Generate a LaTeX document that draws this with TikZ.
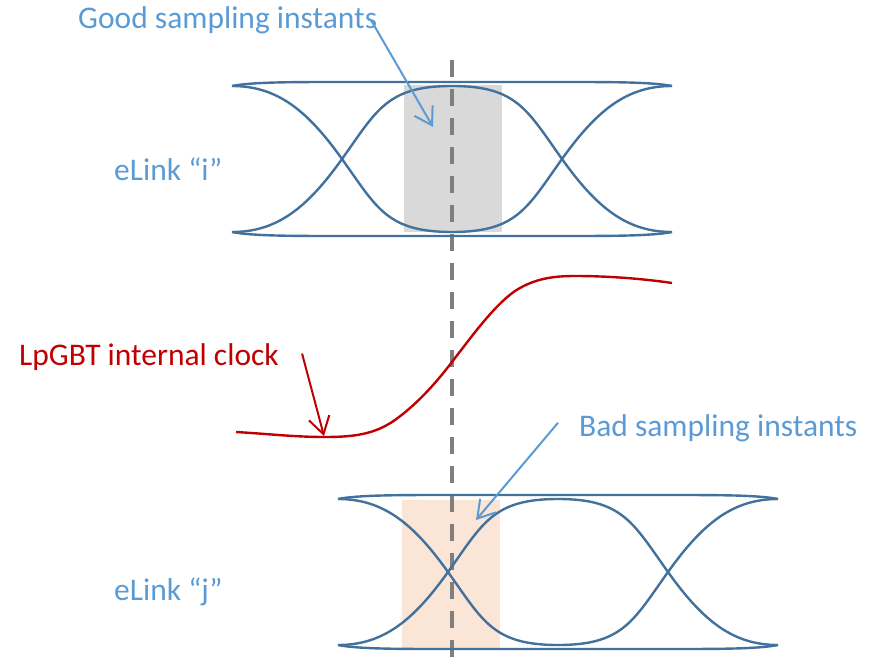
\documentclass[tikz,border=0pt]{standalone}
\usepackage{fontspec}
\setmainfont{Carlito}
\usetikzlibrary{arrows.meta}
\definecolor{eyeblue}{HTML}{41719C}
\definecolor{calloutblue}{HTML}{5B9BD5}
\definecolor{clockred}{HTML}{C00000}
\definecolor{goodgray}{HTML}{D9D9D9}
\definecolor{badpeach}{HTML}{FBE5D6}
\definecolor{samplegray}{HTML}{7F7F7F}
\tikzset{
  eyeline/.style={draw=eyeblue,line width=2.4pt},
  window/.style={fill=#1,draw=none},
  window/.default=goodgray,
  note/.style={anchor=base west,inner sep=0pt,text=#1,font=\fontsize{31.5}{38}\selectfont},
  note/.default=calloutblue,
  sampleline/.style={draw=samplegray,line width=3.5pt,dash pattern=on 17pt off 12pt},
  clockline/.style={draw=clockred,line width=2.4pt},
  callout/.style={-{Straight Barb[length=17pt,width=21pt]},line width=2pt,draw=#1},
  callout/.default=calloutblue,
  eye/.pic={
    % two bit transitions, mirrored
    \foreach \s in {1,-1}{
      \draw[eyeline] (0,-73*\s) .. controls (45,-73*\s) and (75,-49*\s) .. (110,0)
        .. controls (145,49*\s) and (155,73*\s) .. (220,73*\s)
        .. controls (285,73*\s) and (295,49*\s) .. (330,0)
        .. controls (365,-49*\s) and (395,-73*\s) .. (440,-73*\s);
      \draw[eyeline] (0,-73*\s) .. controls (20,-77*\s) and (60,-77*\s) .. (110,-77*\s)
        -- (330,-77*\s) .. controls (380,-77*\s) and (420,-77*\s) .. (440,-73*\s);
    }
  }
}
\begin{document}
\begin{tikzpicture}[x=1pt,y=-1pt]
\useasboundingbox (0,0) rectangle (869,658);
% sampling windows
\fill[window=goodgray] (404,85) rectangle (502,232);
\fill[window=badpeach] (402,500) rectangle (500,648);
% sampling instant
\draw[sampleline] (452,60) -- (452,658);
% eye diagrams
\pic at (232,159) {eye};
\pic at (338,572) {eye};
% clock edge
\draw[clockline] (236,432) .. controls (270,434) and (295,437) .. (325,437)
  .. controls (355,437) and (375,434) .. (395,420)
  .. controls (420,402) and (440,378) .. (455,358)
  .. controls (475,332) and (495,305) .. (515,291)
  .. controls (535,278) and (555,276) .. (575,276)
  .. controls (610,276) and (645,279) .. (672,283);
% labels
\node[note] (goodlbl) at (78,29) {Good sampling instants};
\node[note] (linki) at (114,180) {eLink “i”};
\node[note=clockred] (clklbl) at (19,365) {LpGBT internal clock};
\node[note] (badlbl) at (579,436) {Bad sampling instants};
\node[note] (linkj) at (114,600) {eLink “j”};
\coordinate (goodpt) at (433,127);
\coordinate (clkpt) at (324,436);
\coordinate (badpt) at (476,520);
\draw[callout] ([xshift=-6pt]goodlbl.east) -- (goodpt);
\draw[callout=clockred] ([xshift=23pt,yshift=3pt]clklbl.east) -- (clkpt);
\draw[callout] ([xshift=-21pt,yshift=5pt]badlbl.west) -- (badpt);
\end{tikzpicture}
\end{document}
